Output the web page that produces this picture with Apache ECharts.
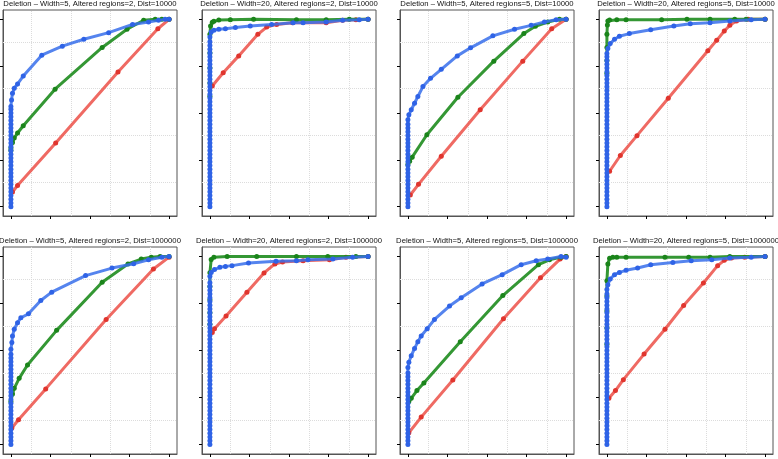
<!DOCTYPE html>
<html>
<head>
<meta charset="utf-8">
<script src="https://cdn.jsdelivr.net/npm/echarts@6/dist/echarts.min.js"></script>
<style>
html,body{margin:0;padding:0;background:#fff;}
#chart{width:778px;height:459px;}
</style>
</head>
<body>
<div id="chart"></div>
<script>
// ---------- data ----------
const titles = [
  "Deletion – Width=5, Altered regions=2, Dist=10000",
  "Deletion – Width=20, Altered regions=2, Dist=10000",
  "Deletion – Width=5, Altered regions=5, Dist=10000",
  "Deletion – Width=20, Altered regions=5, Dist=10000",
  "Deletion – Width=5, Altered regions=2, Dist=1000000",
  "Deletion – Width=20, Altered regions=2, Dist=1000000",
  "Deletion – Width=5, Altered regions=5, Dist=1000000",
  "Deletion – Width=20, Altered regions=5, Dist=1000000"
];
const tickValues = [0, 0.25, 0.5, 0.75, 1];
const gridValues = [0.125, 0.375, 0.625, 0.875];

// Panel 1
const p1Red = [[0.01,0.078],[0.042,0.113],[0.283,0.34],[0.677,0.719],[0.929,0.95],[1,1]];
const p1Green = [[0,0.30],[0,0.313],[0.01,0.343],[0.021,0.366],[0.042,0.393],[0.078,0.432],[0.279,0.627],[0.577,0.85],[0.734,0.947],[0.839,0.995],[0.912,1],[0.954,1],[1,1]];
const p1Blue = [[0,0],[0,0.02],[0,0.04],[0,0.06],[0,0.08],[0,0.10],[0,0.12],[0,0.14],[0,0.16],[0,0.18],[0,0.20],[0,0.22],[0,0.24],[0,0.26],[0,0.28],[0,0.30],[0,0.32],[0,0.34],[0,0.36],[0,0.38],[0,0.40],[0,0.42],[0,0.44],[0,0.46],[0,0.48],[0,0.50],[0,0.52],[0,0.535],[0.004,0.57],[0.01,0.605],[0.021,0.632],[0.042,0.655],[0.078,0.697],[0.195,0.809],[0.325,0.857],[0.461,0.894],[0.618,0.929],[0.769,0.973],[0.87,0.986],[0.933,0.995],[0.975,1],[1,1]];

// Panel 2
const p2Red = [[0.015,0.644],[0.084,0.715],[0.182,0.805],[0.303,0.92],[0.359,0.959],[0.422,0.973],[0.522,0.982],[0.735,0.982],[0.839,0.995],[0.923,0.998],[1,1]];
const p2Green = [[0,0.59],[0,0.66],[0,0.74],[0,0.82],[0,0.92],[0.004,0.965],[0.015,0.985],[0.025,0.99],[0.056,0.996],[0.129,0.998],[0.276,1],[0.547,0.998],[0.735,0.998],[0.881,1],[1,1]];
const p2Blue = [[0,0],[0,0.02],[0,0.04],[0,0.06],[0,0.08],[0,0.10],[0,0.12],[0,0.14],[0,0.16],[0,0.18],[0,0.20],[0,0.22],[0,0.24],[0,0.26],[0,0.28],[0,0.30],[0,0.32],[0,0.34],[0,0.36],[0,0.38],[0,0.40],[0,0.42],[0,0.44],[0,0.46],[0,0.48],[0,0.50],[0,0.52],[0,0.54],[0,0.56],[0,0.58],[0,0.60],[0,0.62],[0,0.64],[0,0.66],[0,0.68],[0,0.70],[0,0.72],[0,0.74],[0,0.76],[0,0.78],[0,0.80],[0,0.82],[0,0.84],[0,0.86],[0,0.88],[0,0.906],[0.008,0.933],[0.025,0.942],[0.056,0.947],[0.098,0.95],[0.161,0.956],[0.255,0.965],[0.39,0.973],[0.526,0.982],[0.589,0.982],[0.735,0.986],[0.839,0.995],[0.944,0.998],[1,1]];

// Panel 3
const p3Red = [[0.015,0.062],[0.067,0.119],[0.211,0.269],[0.457,0.517],[0.726,0.777],[0.909,0.95],[1,1]];
const p3Green = [[0,0.225],[0.011,0.242],[0.027,0.264],[0.12,0.384],[0.316,0.584],[0.543,0.777],[0.733,0.924],[0.806,0.963],[0.884,0.986],[0.958,1],[1,1]];
const p3Blue = [[0,0],[0,0.02],[0,0.04],[0,0.06],[0,0.08],[0,0.10],[0,0.12],[0,0.14],[0,0.16],[0,0.18],[0,0.20],[0,0.22],[0,0.24],[0,0.26],[0,0.28],[0,0.30],[0,0.32],[0,0.34],[0,0.36],[0,0.38],[0,0.40],[0,0.42],[0,0.44],[0,0.464],[0.006,0.49],[0.021,0.517],[0.042,0.552],[0.063,0.588],[0.095,0.641],[0.143,0.685],[0.211,0.733],[0.312,0.805],[0.396,0.848],[0.537,0.912],[0.674,0.947],[0.779,0.968],[0.863,0.986],[0.937,0.998],[1,1]];

// Panel 4
const p4Red = [[0.017,0.189],[0.085,0.273],[0.19,0.379],[0.388,0.579],[0.638,0.832],[0.694,0.888],[0.742,0.938],[0.777,0.968],[0.819,0.991],[0.892,1],[1,1]];
const p4Green = [[0,0.712],[0,0.78],[0,0.85],[0,0.92],[0.003,0.97],[0.006,0.991],[0.017,0.996],[0.0625,0.998],[0.121,0.998],[0.346,0.998],[0.506,1],[0.652,1],[0.808,1],[0.88,1],[1,1]];
const p4Blue = [[0,0],[0,0.02],[0,0.04],[0,0.06],[0,0.08],[0,0.10],[0,0.12],[0,0.14],[0,0.16],[0,0.18],[0,0.20],[0,0.22],[0,0.24],[0,0.26],[0,0.28],[0,0.30],[0,0.32],[0,0.34],[0,0.36],[0,0.38],[0,0.40],[0,0.42],[0,0.44],[0,0.46],[0,0.48],[0,0.50],[0,0.52],[0,0.54],[0,0.56],[0,0.58],[0,0.60],[0,0.62],[0,0.64],[0,0.66],[0,0.68],[0,0.70],[0,0.72],[0,0.74],[0,0.76],[0,0.78],[0,0.80],[0,0.818],[0.006,0.844],[0.021,0.871],[0.048,0.894],[0.079,0.91],[0.142,0.924],[0.277,0.945],[0.423,0.965],[0.527,0.977],[0.652,0.982],[0.777,0.991],[0.912,0.998],[1,1]];

// Panel 5
const p5Red = [[0.006,0.088],[0.048,0.132],[0.22,0.296],[0.602,0.665],[0.901,0.933],[1,0.996]];
const p5Green = [[0,0.229],[0.01,0.269],[0.021,0.299],[0.052,0.352],[0.105,0.423],[0.289,0.607],[0.577,0.863],[0.74,0.96],[0.824,0.986],[0.887,0.996],[0.943,1],[1,1]];
const p5Blue = [[0,0],[0,0.02],[0,0.04],[0,0.06],[0,0.08],[0,0.10],[0,0.12],[0,0.14],[0,0.16],[0,0.18],[0,0.20],[0,0.22],[0,0.24],[0,0.26],[0,0.28],[0,0.30],[0,0.32],[0,0.34],[0,0.36],[0,0.38],[0,0.40],[0,0.42],[0,0.44],[0,0.46],[0,0.48],[0,0.507],[0.006,0.542],[0.01,0.577],[0.021,0.613],[0.042,0.648],[0.063,0.674],[0.111,0.695],[0.189,0.766],[0.258,0.81],[0.472,0.898],[0.639,0.938],[0.776,0.961],[0.87,0.982],[0.954,0.996],[1,1]];

// Panel 6
const p6Red = [[0.015,0.595],[0.029,0.616],[0.102,0.683],[0.234,0.81],[0.342,0.912],[0.411,0.96],[0.459,0.97],[0.589,0.977],[0.756,0.982],[0.86,0.996],[1,1]];
const p6Green = [[0,0.639],[0,0.70],[0,0.77],[0,0.84],[0,0.913],[0.008,0.984],[0.025,0.996],[0.109,1],[0.296,1],[0.547,1],[0.745,1],[0.923,1],[1,1]];
const p6Blue = [[0,0],[0,0.02],[0,0.04],[0,0.06],[0,0.08],[0,0.10],[0,0.12],[0,0.14],[0,0.16],[0,0.18],[0,0.20],[0,0.22],[0,0.24],[0,0.26],[0,0.28],[0,0.30],[0,0.32],[0,0.34],[0,0.36],[0,0.38],[0,0.40],[0,0.42],[0,0.44],[0,0.46],[0,0.48],[0,0.50],[0,0.52],[0,0.54],[0,0.56],[0,0.58],[0,0.60],[0,0.62],[0,0.64],[0,0.66],[0,0.68],[0,0.70],[0,0.72],[0,0.74],[0,0.76],[0,0.78],[0,0.80],[0,0.82],[0,0.84],[0,0.86],[0,0.894],[0.008,0.915],[0.029,0.93],[0.063,0.942],[0.098,0.947],[0.14,0.951],[0.244,0.965],[0.418,0.974],[0.547,0.977],[0.62,0.982],[0.777,0.986],[0.902,0.995],[1,1]];

// Panel 7
const p7Red = [[0.006,0.063],[0.084,0.146],[0.284,0.343],[0.604,0.669],[0.838,0.886],[0.962,0.986],[1,1]];
const p7Green = [[0.006,0.229],[0.021,0.246],[0.057,0.287],[0.101,0.327],[0.331,0.546],[0.6,0.792],[0.825,0.956],[0.895,0.982],[0.968,0.996],[1,1]];
const p7Blue = [[0,0],[0,0.02],[0,0.04],[0,0.06],[0,0.08],[0,0.10],[0,0.12],[0,0.14],[0,0.16],[0,0.18],[0,0.20],[0,0.22],[0,0.24],[0,0.26],[0,0.28],[0,0.30],[0,0.32],[0,0.34],[0,0.36],[0,0.38],[0,0.41],[0.006,0.437],[0.021,0.472],[0.042,0.511],[0.063,0.546],[0.084,0.577],[0.122,0.616],[0.168,0.665],[0.263,0.736],[0.337,0.78],[0.469,0.854],[0.596,0.903],[0.716,0.956],[0.811,0.977],[0.884,0.986],[0.968,1],[1,0.996]];

// Panel 8
const p8Red = [[0.0125,0.246],[0.054,0.287],[0.104,0.345],[0.235,0.481],[0.367,0.613],[0.485,0.739],[0.61,0.859],[0.7,0.951],[0.742,0.979],[0.7875,0.991],[0.871,0.996],[1,1]];
const p8Green = [[0,0.533],[0,0.62],[0,0.71],[0,0.79],[0,0.87],[0.006,0.96],[0.017,0.99],[0.0375,0.996],[0.0625,0.996],[0.121,0.996],[0.367,0.996],[0.517,0.996],[0.652,0.996],[0.777,1],[1,1]];
const p8Blue = [[0,0],[0,0.02],[0,0.04],[0,0.06],[0,0.08],[0,0.10],[0,0.12],[0,0.14],[0,0.16],[0,0.18],[0,0.20],[0,0.22],[0,0.24],[0,0.26],[0,0.28],[0,0.30],[0,0.32],[0,0.34],[0,0.36],[0,0.38],[0,0.40],[0,0.42],[0,0.44],[0,0.46],[0,0.48],[0,0.50],[0,0.52],[0,0.54],[0,0.56],[0,0.58],[0,0.60],[0,0.62],[0,0.64],[0,0.66],[0,0.68],[0,0.70],[0,0.72],[0,0.74],[0,0.76],[0,0.78],[0,0.80],[0,0.824],[0.006,0.85],[0.021,0.88],[0.048,0.903],[0.079,0.915],[0.121,0.926],[0.194,0.938],[0.277,0.956],[0.417,0.968],[0.533,0.977],[0.663,0.982],[0.777,0.991],[0.912,0.996],[1,1]];

const panelData = [
  [p1Red, p1Green, p1Blue],
  [p2Red, p2Green, p2Blue],
  [p3Red, p3Green, p3Blue],
  [p4Red, p4Green, p4Blue],
  [p5Red, p5Green, p5Blue],
  [p6Red, p6Green, p6Blue],
  [p7Red, p7Green, p7Blue],
  [p8Red, p8Green, p8Blue]
];

// ---------- layout / style ----------
const colLeft = [3, 202, 400, 599];
const rowTop = [10, 247];
const panelW = 174;
const panelH = [206, 207];
const lineColors = ['rgba(236,80,72,0.85)', 'rgba(30,140,30,0.9)', 'rgba(55,110,235,0.85)'];
const dotColors = ['#e0352e', '#1a841a', '#2f63e6'];
const fontFam = '"Liberation Sans", Arial, Helvetica, sans-serif';

const grids = [], xAxes = [], yAxes = [], series = [], titleArr = [];
for (let i = 0; i < 8; i++) {
  const c = i % 4, r = Math.floor(i / 4);
  grids.push({
    left: colLeft[c], top: rowTop[r], width: panelW, height: panelH[r],
    show: true, borderColor: '#555', borderWidth: 1, backgroundColor: 'transparent'
  });
  const axisCommon = {
    gridIndex: i, type: 'value', min: -0.05, max: 1.05,
    axisLine: { show: true, onZero: false, lineStyle: { color: '#555', width: 1 } },
    axisTick: { show: true, inside: false, length: 3, customValues: tickValues, lineStyle: { color: '#000', width: 1 } },
    axisLabel: { show: false, customValues: tickValues },
    splitLine: { show: false }
  };
  xAxes.push(Object.assign({}, axisCommon));
  yAxes.push(Object.assign({}, axisCommon));
  titleArr.push({
    text: titles[i],
    left: colLeft[c] + panelW / 2,
    top: r === 0 ? 0 : 236.5,
    textAlign: 'center',
    padding: 0,
    textStyle: { fontFamily: fontFam, fontSize: 7.7, fontWeight: 'normal', color: '#111' }
  });
  // grid lines (dotted) drawn on the data scale, beneath the curves
  series.push({
    type: 'line', xAxisIndex: i, yAxisIndex: i, data: [], silent: true, z: 1,
    markLine: {
      silent: true, symbol: 'none', animation: false, label: { show: false }, z: 1,
      lineStyle: { color: '#dcdcdc', type: [1, 1], width: 1 },
      data: gridValues.map(v => ({ xAxis: v })).concat(gridValues.map(v => ({ yAxis: v })))
    }
  });
  panelData[i].forEach((d, k) => {
    series.push({
      type: 'line', xAxisIndex: i, yAxisIndex: i, data: d,
      symbol: 'circle', symbolSize: 5, showSymbol: true, showAllSymbol: true,
      lineStyle: { color: lineColors[k], width: 3 },
      itemStyle: { color: dotColors[k] },
      animation: false, z: 3 + k
    });
  });
}

const chart = echarts.init(document.getElementById('chart'), null, { renderer: 'canvas' });
chart.setOption({
  animation: false,
  backgroundColor: '#fff',
  title: titleArr,
  grid: grids,
  xAxis: xAxes,
  yAxis: yAxes,
  series: series
});
</script>
</body>
</html>
